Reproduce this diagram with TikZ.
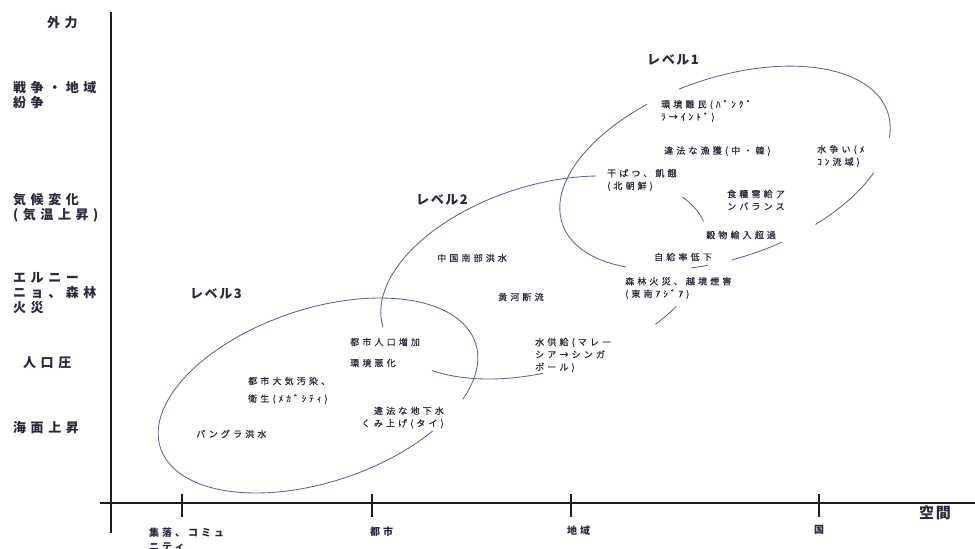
\documentclass[tikz,border=0pt]{standalone}
\usepackage{fontspec}
\setmainfont{Noto Sans CJK JP}
\newfontfamily\jpL[LetterSpace=35]{Noto Sans CJK JP}
\newfontfamily\jpM[LetterSpace=12]{Noto Sans CJK JP}
\newfontfamily\jpS[LetterSpace=35,FakeBold=0.6]{Noto Sans CJK JP}
\newfontfamily\jpT[LetterSpace=30]{Noto Sans CJK JP}
\definecolor{ellc}{RGB}{92,104,140}
\definecolor{txt}{RGB}{40,42,58}
\definecolor{axc}{RGB}{30,30,30}
\newcommand\ellseg[4]{\draw[ell] (#1:#3 and #4) arc[start angle=#1, end angle=#2, x radius=#3, y radius=#4];}
\tikzset{
  ell/.style={draw=ellc, line width=0.85pt},
  axis/.style={draw=axc, line width=1.1pt},
  sidelab/.style={font={\fontsize{13}{15}\selectfont\jpL\bfseries}, text=txt, anchor=west, inner sep=0pt, align=left},
  levlab/.style={font={\fontsize{13}{15}\selectfont\jpM\bfseries}, text=txt, anchor=west, inner sep=0pt},
  inlab/.style={font={\fontsize{9}{12.5}\selectfont\jpS}, text=txt, anchor=west, inner sep=0pt, align=left},
  ticklab/.style={font={\fontsize{10}{14}\selectfont\jpT\bfseries}, text=txt, anchor=west, inner sep=0pt, align=left},
}
\begin{document}
\begin{tikzpicture}[x=1pt, y=-1pt]
\useasboundingbox (0,0) rectangle (975,549);
\fill[white] (0,0) rectangle (975,549);

% axes
\coordinate (ytop) at (111,12);
\coordinate (ybot) at (111,533);
\coordinate (xl) at (100,503);
\coordinate (xr) at (975,503);
\draw[axis] (ytop) -- (ybot);
\draw[axis] (xl) -- (xr);
\foreach \n/\x in {t1/182, t2/372, t3/571, t4/819}{
  \coordinate (\n a) at (\x,494);
  \coordinate (\n b) at (\x,517);
  \draw[axis] (\n a) -- (\n b);
}

% side labels
\node[sidelab] (gairyoku) at (47,23) {外力};
\node[sidelab] (senso) at (13,95) {戦争・地域\\紛争};
\node[sidelab] (kiko) at (13,207.5) {気候変化\\(気温上昇)};
\node[sidelab] (elnino) at (13,293) {エルニー\\ニョ、森林\\火災};
\node[sidelab] (jinko) at (23,363) {人口圧};
\node[sidelab] (kaimen) at (13,428) {海面上昇};

% axis labels
\node[ticklab] (shuraku) at (149,540) {集落、コミュ\\ニティ};
\node[ticklab] (toshi) at (370,532) {都市};
\node[ticklab] (chiiki) at (567,531) {地域};
\node[ticklab] (kuni) at (814,530) {国};
\node[font={\fontsize{15}{18}\selectfont\jpM\bfseries}, text=txt, anchor=west, inner sep=0pt] (kukan) at (919,513) {空間};

% level 1 ellipse
\begin{scope}[shift={(725,168)}, rotate=19]
\ellseg{96}{-16}{172pt}{90pt}
\ellseg{-36}{-67}{172pt}{90pt}
\ellseg{-80}{-98}{172pt}{90pt}
\ellseg{-106}{-112}{172pt}{90pt}
\ellseg{108}{223}{172pt}{90pt}
\end{scope}
% level 2 ellipse
\begin{scope}[shift={(544.5,277.5)}, rotate=17.2]
\ellseg{62}{180}{169pt}{92.5pt}
\ellseg{23}{4}{169pt}{92.5pt}
\ellseg{-46}{-57}{169pt}{92.5pt}
\ellseg{-100}{-143}{169pt}{92.5pt}
\end{scope}
% level 3 ellipse
\begin{scope}[shift={(318,395.5)}, rotate=18.5]
\ellseg{-35}{306}{166pt}{86.5pt}
\end{scope}

% level labels
\node[levlab] (lv1) at (647,60) {レベル1};
\node[levlab] (lv2) at (416,200) {レベル2};
\node[levlab] (lv3) at (190,294) {レベル3};

% level 1 contents
\node[inlab] (nanmin) at (661,111) {環境難民(ﾊﾞﾝｸﾞ\\ﾗ→ｲﾝﾄﾞ)};
\node[inlab] (gyokaku) at (664,151) {違法な漁獲(中・韓)};
\node[inlab] (mizuarasoi) at (817,156) {水争い(ﾒ\\ｺﾝ流域)};
\node[inlab] (kanbatsu) at (607,180) {干ばつ、飢餓\\(北朝鮮)};
\node[inlab] (shokuryo) at (727,200) {食糧需給ア\\ンバランス};
\node[inlab] (kokumotsu) at (706,235) {穀物輸入超過};
\node[inlab] (jikyu) at (654,257) {自給率低下};
\node[inlab] (shinrin) at (625,288) {森林火災、越境煙害\\(東南ｱｼﾞｱ)};

% level 2 contents
\node[inlab] (chugoku) at (437,258) {中国南部洪水};
\node[inlab] (koga) at (498,297) {黄河断流};
\node[inlab] (kyokyu) at (535,355) {水供給(マレー\\シア→シンガ\\ポール)};

% level 3 contents
\node[inlab] (toshijinko) at (350,342) {都市人口増加};
\node[inlab] (akka) at (350,363) {環境悪化};
\node[inlab] (taiki) at (248,381) {都市大気汚染、};
\node[inlab] (eisei) at (248,399) {衛生(ﾒｶﾞｼﾃｨ)};
\node[inlab, anchor=east, align=right] (chikasui) at (444,417.5) {違法な地下水\\くみ上げ(タイ)};
\node[inlab] (bangura) at (196,434) {バングラ洪水};
\end{tikzpicture}
\end{document}
